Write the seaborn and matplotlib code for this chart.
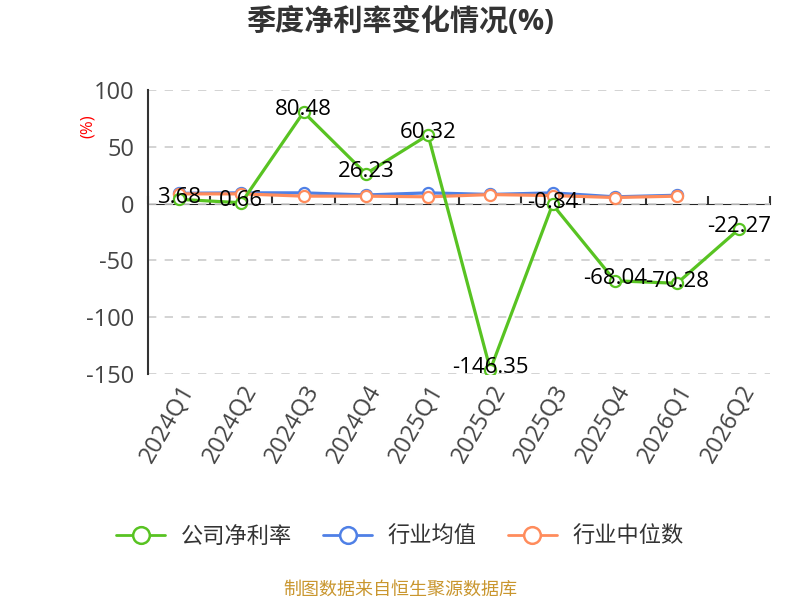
import numpy as np
import pandas as pd
import matplotlib
matplotlib.use('Agg')
import matplotlib.pyplot as plt
import seaborn as sns
from matplotlib.lines import Line2D

# 数据
quarters = ['2024Q1', '2024Q2', '2024Q3', '2024Q4', '2025Q1',
            '2025Q2', '2025Q3', '2025Q4', '2026Q1', '2026Q2']
company = [3.68, 0.66, 80.48, 26.23, 60.32, -146.35, -0.84, -68.04, -70.28, -22.27]
industry_mean = [9.0, 9.4, 9.4, 7.5, 9.4, 8.0, 9.4, 5.9, 7.3, np.nan]
industry_median = [8.5, 8.5, 6.5, 6.5, 5.9, 7.9, 7.0, 5.3, 6.5, np.nan]
series_names = ['公司净利率', '行业均值', '行业中位数']
colors = ['#58c322', '#4f80e6', '#ff8c5c']

df = pd.DataFrame({
    '季度': quarters * 3,
    '值': company + industry_mean + industry_median,
    '系列': [series_names[0]] * 10 + [series_names[1]] * 10 + [series_names[2]] * 10,
})

sns.set_style('white')
plt.rcParams['font.family'] = ['Open Sans', 'Noto Sans CJK SC', 'DejaVu Sans']
plt.rcParams['axes.unicode_minus'] = False

fig = plt.figure(figsize=(8, 6), dpi=100)
ax = fig.add_axes([0.185, 0.377, 0.778, 0.473])

# 先画行业均值、中位数，再画公司净利率
zorders = {series_names[0]: 5, series_names[1]: 3, series_names[2]: 4}
for name, c in zip(series_names, colors):
    sub = df[df['系列'] == name].dropna()
    sns.lineplot(data=sub, x='季度', y='值', ax=ax, color=c, linewidth=2.3,
                 marker='o', markersize=8, markerfacecolor='white',
                 markeredgecolor=c, markeredgewidth=1.6, zorder=zorders[name],
                 sort=False, legend=False)

# 数值标签
for i, v in enumerate(company):
    ax.text(i, v + 2, f'{v:.2f}', ha='center', va='center', fontsize=16,
            color='black', zorder=10)

ymin, ymax = -150, 100
ax.set_xlim(-0.5, len(quarters) - 0.5)
ax.set_ylim(ymin, ymax)
ax.set_yticks([100, 50, 0, -50, -100, -150])
ax.yaxis.grid(True, linestyle=(0, (5, 5)), color='#cccccc', linewidth=1.2)
ax.set_axisbelow(True)

for s in ['top', 'right', 'bottom']:
    ax.spines[s].set_visible(False)
ax.spines['left'].set_color('#333333')
ax.spines['left'].set_linewidth(1.5)
ax.tick_params(axis='y', length=6, width=1.5, color='#333333',
               labelsize=17, labelcolor='#444444', pad=4)

ax.set_xticks(range(len(quarters)))
ax.set_xticklabels(quarters, rotation=60, ha='right', rotation_mode='anchor',
                   fontsize=17, color='#444444')
ax.tick_params(axis='x', length=0, pad=5)
ax.set_xlabel('')
ax.set_ylabel('')

# 零线作为横轴
sec = ax.secondary_xaxis((0 - ymin) / (ymax - ymin))
sec.spines['bottom'].set_color('#333333')
sec.spines['bottom'].set_linewidth(1.5)
sec.set_xticks(np.arange(-0.5, len(quarters), 1.0))
sec.set_xticklabels([])
sec.tick_params(axis='x', length=6, width=1.5, color='#333333')

fig.text(0.5, 0.963, '季度净利率变化情况(%)', ha='center', va='center',
         fontsize=21, fontweight='bold', color='#333333')
fig.text(0.11, 0.79, '(%)', rotation=90, ha='center', va='center',
         fontsize=12, color='red')

handles = [Line2D([0], [0], color=c, linewidth=2, marker='o', markersize=12,
                  markerfacecolor='white', markeredgecolor=c, markeredgewidth=1.8)
           for c in colors]
fig.legend(handles, series_names, loc='center', bbox_to_anchor=(0.5, 0.105),
           ncol=3, frameon=False, fontsize=16, handlelength=2.2,
           columnspacing=1.4, handletextpad=0.7, labelcolor='#333333')

fig.text(0.5, 0.017, '制图数据来自恒生聚源数据库', ha='center', va='center',
         fontsize=13, color='#c9962e')

fig.savefig('out.png', dpi=100)
